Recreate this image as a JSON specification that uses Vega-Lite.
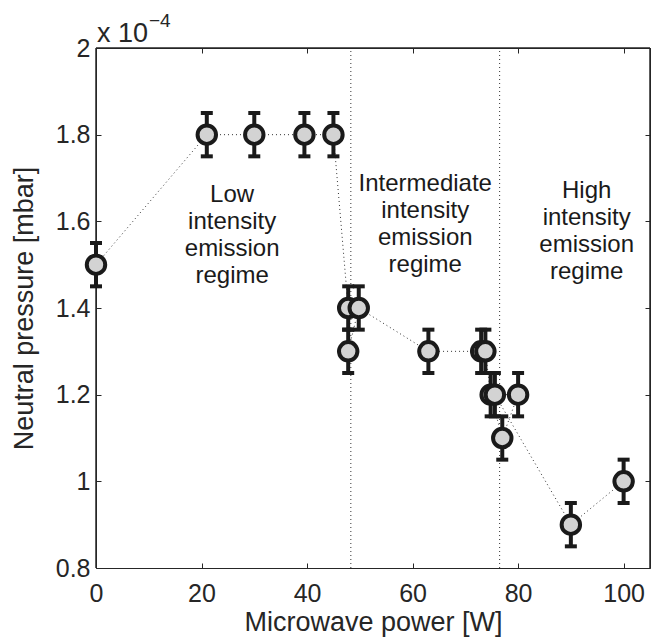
{
  "$schema": "https://vega.github.io/schema/vega-lite/v6.json",
  "width": 554,
  "height": 520,
  "autosize": {"type": "none"},
  "padding": {"left": 96, "top": 48, "right": 1, "bottom": 72},
  "background": "white",
  "config": {
    "view": {"stroke": null},
    "font": "Liberation Sans",
    "axis": {
      "grid": false,
      "domainColor": "#262626",
      "domainWidth": 1,
      "tickColor": "#262626",
      "tickWidth": 1,
      "tickSize": -5,
      "labelFont": "Liberation Sans",
      "labelFontSize": 25,
      "labelColor": "#262626",
      "titleFont": "Liberation Sans",
      "titleFontSize": 27,
      "titleFontWeight": "normal",
      "titleColor": "#262626"
    }
  },
  "datasets": {
    "frameData": [
      {"xmin": 0, "xmax": 105, "ymin": 0.8, "ymax": 2.0}
    ],
    "ptsData": [
      {"order": 1, "power": 0, "pressure": 1.5, "lo": 1.45, "hi": 1.55},
      {"order": 2, "power": 21, "pressure": 1.8, "lo": 1.75, "hi": 1.85},
      {"order": 3, "power": 30, "pressure": 1.8, "lo": 1.75, "hi": 1.85},
      {"order": 4, "power": 39.5, "pressure": 1.8, "lo": 1.75, "hi": 1.85},
      {"order": 5, "power": 45, "pressure": 1.8, "lo": 1.75, "hi": 1.85},
      {"order": 6, "power": 47.8, "pressure": 1.4, "lo": 1.35, "hi": 1.45},
      {"order": 7, "power": 47.8, "pressure": 1.3, "lo": 1.25, "hi": 1.35},
      {"order": 8, "power": 49.8, "pressure": 1.4, "lo": 1.35, "hi": 1.45},
      {"order": 9, "power": 63, "pressure": 1.3, "lo": 1.25, "hi": 1.35},
      {"order": 10, "power": 73, "pressure": 1.3, "lo": 1.25, "hi": 1.35},
      {"order": 11, "power": 73.8, "pressure": 1.3, "lo": 1.25, "hi": 1.35},
      {"order": 12, "power": 74.8, "pressure": 1.2, "lo": 1.15, "hi": 1.25},
      {"order": 13, "power": 77, "pressure": 1.1, "lo": 1.05, "hi": 1.15},
      {"order": 14, "power": 80, "pressure": 1.2, "lo": 1.15, "hi": 1.25},
      {"order": 15, "power": 75.6, "pressure": 1.2, "lo": 1.15, "hi": 1.25},
      {"order": 16, "power": 90, "pressure": 0.9, "lo": 0.85, "hi": 0.95},
      {"order": 17, "power": 100, "pressure": 1.0, "lo": 0.95, "hi": 1.05}
    ],
    "regimeData": [
      {"power": 48.3, "ylo": 0.8, "yhi": 2.0},
      {"power": 76.5, "ylo": 0.8, "yhi": 2.0}
    ],
    "noteData": [
      {"power": 25.8, "pressure": 1.645, "note": "Low\nintensity\nemission\nregime"},
      {"power": 62.4, "pressure": 1.671, "note": "Intermediate\nintensity\nemission\nregime"},
      {"power": 93.0, "pressure": 1.654, "note": "High\nintensity\nemission\nregime"}
    ],
    "expData": [
      {"power": 0, "pressure": 2.0, "base": "x 10", "sup": "−4"}
    ]
  },
  "layer": [
    {
      "data": {"name": "frameData"},
      "mark": {"type": "rule", "color": "#262626", "strokeWidth": 1},
      "encoding": {
        "x": {"field": "xmin", "type": "quantitative", "scale": {"domain": [0, 105], "nice": false, "zero": false},
              "axis": {"orient": "bottom", "values": [0, 20, 40, 60, 80, 100], "title": "Microwave power [W]", "labelPadding": 18, "titlePadding": 3, "labelFlush": false}},
        "y": {"field": "ymin", "type": "quantitative", "scale": {"domain": [0.8, 2.0], "nice": false, "zero": false},
              "axis": {"orient": "left", "values": [0.8, 1.0, 1.2, 1.4, 1.6, 1.8, 2.0], "format": "~g", "title": "Neutral pressure [mbar]", "labelPadding": 11, "titlePadding": 17, "labelFlush": false}},
        "y2": {"field": "ymax"}
      }
    },
    {
      "data": {"name": "frameData"},
      "mark": {"type": "rule", "color": "#262626", "strokeWidth": 1},
      "encoding": {
        "x": {"field": "xmin", "type": "quantitative",
              "axis": {"orient": "top", "values": [0, 20, 40, 60, 80, 100], "labels": false, "title": null}},
        "y": {"field": "ymin", "type": "quantitative",
              "axis": {"orient": "right", "values": [0.8, 1.0, 1.2, 1.4, 1.6, 1.8, 2.0], "labels": false, "title": null}},
        "y2": {"field": "ymax"}
      }
    },
    {
      "data": {"name": "regimeData"},
      "mark": {"type": "rule", "color": "#333333", "strokeWidth": 1, "strokeDash": [1, 3]},
      "encoding": {
        "x": {"field": "power", "type": "quantitative", "axis": null},
        "y": {"field": "ylo", "type": "quantitative", "axis": null},
        "y2": {"field": "yhi"}
      }
    },
    {
      "data": {"name": "ptsData"},
      "mark": {"type": "line", "color": "#333333", "strokeWidth": 1, "strokeDash": [1, 3]},
      "encoding": {
        "x": {"field": "power", "type": "quantitative", "axis": null},
        "y": {"field": "pressure", "type": "quantitative", "axis": null},
        "order": {"field": "order", "type": "quantitative"}
      }
    },
    {
      "data": {"name": "ptsData"},
      "mark": {"type": "rule", "color": "#1a1a1a", "strokeWidth": 4},
      "encoding": {
        "x": {"field": "power", "type": "quantitative", "axis": null},
        "y": {"field": "lo", "type": "quantitative", "axis": null},
        "y2": {"field": "hi"}
      }
    },
    {
      "data": {"name": "ptsData"},
      "mark": {"type": "tick", "orient": "horizontal", "color": "#1a1a1a", "size": 12, "thickness": 4, "opacity": 1},
      "encoding": {
        "x": {"field": "power", "type": "quantitative", "axis": null},
        "y": {"field": "lo", "type": "quantitative", "axis": null}
      }
    },
    {
      "data": {"name": "ptsData"},
      "mark": {"type": "tick", "orient": "horizontal", "color": "#1a1a1a", "size": 12, "thickness": 4, "opacity": 1},
      "encoding": {
        "x": {"field": "power", "type": "quantitative", "axis": null},
        "y": {"field": "hi", "type": "quantitative", "axis": null}
      }
    },
    {
      "data": {"name": "ptsData"},
      "mark": {"type": "point", "shape": "circle", "filled": false, "fill": "#d3d3d3", "fillOpacity": 1, "stroke": "#1a1a1a", "strokeWidth": 4, "size": 340, "opacity": 1},
      "encoding": {
        "x": {"field": "power", "type": "quantitative", "axis": null},
        "y": {"field": "pressure", "type": "quantitative", "axis": null}
      }
    },
    {
      "data": {"name": "noteData"},
      "mark": {"type": "text", "align": "center", "baseline": "alphabetic", "fontSize": 24, "lineHeight": 27, "lineBreak": "\n", "color": "#1a1a1a", "font": "Liberation Sans"},
      "encoding": {
        "x": {"field": "power", "type": "quantitative", "axis": null},
        "y": {"field": "pressure", "type": "quantitative", "axis": null},
        "text": {"field": "note", "type": "nominal"}
      }
    },
    {
      "data": {"name": "expData"},
      "mark": {"type": "text", "align": "left", "baseline": "alphabetic", "fontSize": 27, "dx": 1, "dy": -6, "color": "#262626", "font": "Liberation Sans"},
      "encoding": {
        "x": {"field": "power", "type": "quantitative", "axis": null},
        "y": {"field": "pressure", "type": "quantitative", "axis": null},
        "text": {"field": "base", "type": "nominal"}
      }
    },
    {
      "data": {"name": "expData"},
      "mark": {"type": "text", "align": "left", "baseline": "alphabetic", "fontSize": 19, "dx": 53, "dy": -21, "color": "#262626", "font": "Liberation Sans"},
      "encoding": {
        "x": {"field": "power", "type": "quantitative", "axis": null},
        "y": {"field": "pressure", "type": "quantitative", "axis": null},
        "text": {"field": "sup", "type": "nominal"}
      }
    },
    {
      "data": {"name": "frameData"},
      "mark": {"type": "rule", "color": "#262626", "strokeWidth": 1.5, "clip": false},
      "encoding": {
        "x": {"field": "xmin", "type": "quantitative", "axis": null},
        "x2": {"field": "xmax"},
        "y": {"field": "ymax", "type": "quantitative", "axis": null}
      }
    },
    {
      "data": {"name": "frameData"},
      "mark": {"type": "rule", "color": "#262626", "strokeWidth": 1.5, "clip": false},
      "encoding": {
        "x": {"field": "xmax", "type": "quantitative", "axis": null},
        "y": {"field": "ymin", "type": "quantitative", "axis": null},
        "y2": {"field": "ymax"}
      }
    }
  ],
  "resolve": {"axis": {"x": "independent", "y": "independent"}}
}
